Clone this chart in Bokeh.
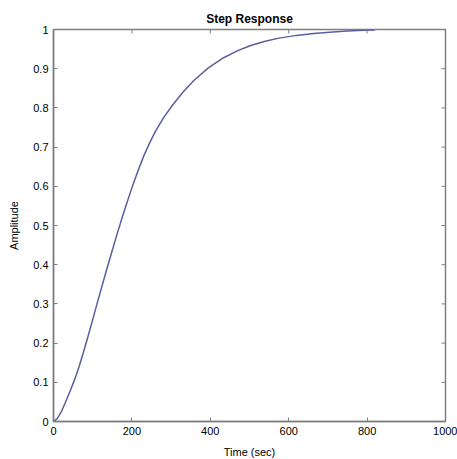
from bokeh.plotting import figure
from bokeh.models import Range1d, FixedTicker
from bokeh.embed import file_html
from bokeh.resources import INLINE

time_sec = [0, 10, 20, 30, 43, 55, 65, 75, 86, 100, 111, 125, 135, 150, 160, 175, 185, 200, 214,
            230, 245, 260, 280, 303, 330, 358, 395, 434, 470, 503, 540, 575, 620, 664, 705, 749,
            790, 820]
amplitude = [0, 0.008, 0.025, 0.048, 0.079, 0.11, 0.139, 0.172, 0.21, 0.26, 0.30, 0.35, 0.385,
             0.437, 0.471, 0.52, 0.551, 0.596, 0.635, 0.677, 0.71, 0.74, 0.774, 0.806, 0.84,
             0.87, 0.902, 0.928, 0.946, 0.959, 0.97, 0.978, 0.985, 0.99, 0.993, 0.996, 0.998,
             0.999]

x_ticks = [0, 200, 400, 600, 800, 1000]
y_ticks = [0, 0.1, 0.2, 0.3, 0.4, 0.5, 0.6, 0.7, 0.8, 0.9, 1]
x_min, x_max = 0, 1000
y_min, y_max = 0, 1

FONT = "Liberation Sans"
AXIS_COLOR = "#7f7f7f"
FRAME = 392
TICK_PX = 4

p = figure(frame_width=FRAME, frame_height=FRAME, output_backend="svg", toolbar_location=None,
           x_range=Range1d(x_min, x_max), y_range=Range1d(y_min, y_max),
           title="Step Response", x_axis_label="Time (sec)", y_axis_label="Amplitude",
           min_border_left=53, min_border_right=12, min_border_top=29, min_border_bottom=38)

p.title.align = "center"
p.title.text_font = FONT
p.title.text_font_size = "12px"
p.title.text_font_style = "bold"
p.title.text_color = "black"
p.title.offset = 0
p.title.standoff = 7

p.xgrid.visible = False
p.ygrid.visible = False
p.outline_line_color = AXIS_COLOR
p.outline_line_width = 1.5

p.line(time_sec, amplitude, line_color="#5b5e9e", line_width=1.5)

for ax, ticks in ((p.xaxis[0], x_ticks), (p.yaxis[0], y_ticks)):
    ax.ticker = FixedTicker(ticks=ticks)
    ax.axis_line_color = AXIS_COLOR
    ax.axis_line_width = 1.5
    ax.major_tick_line_color = AXIS_COLOR
    ax.major_tick_in = TICK_PX
    ax.major_tick_out = 0
    ax.minor_tick_line_color = None
    ax.major_label_text_font = FONT
    ax.major_label_text_font_size = "11px"
    ax.major_label_text_color = "black"
    ax.major_label_standoff = 5
    ax.axis_label_text_font = FONT
    ax.axis_label_text_font_size = "11px"
    ax.axis_label_text_font_style = "normal"
    ax.axis_label_text_color = "black"

p.xaxis[0].axis_label_standoff = 8
p.yaxis[0].axis_label_standoff = 10

p.xaxis[0].major_label_overrides = {t: str(t) for t in x_ticks}
p.yaxis[0].major_label_overrides = {0: "0", 1: "1"}

# inward ticks on the top and right edges of the frame (box axes)
dy = TICK_PX / FRAME * (y_max - y_min)
dx = TICK_PX / FRAME * (x_max - x_min)
p.segment(x0=x_ticks, y0=[y_max] * len(x_ticks), x1=x_ticks, y1=[y_max - dy] * len(x_ticks),
          line_color=AXIS_COLOR, line_width=1)
p.segment(x0=[x_max] * len(y_ticks), y0=y_ticks, x1=[x_max - dx] * len(y_ticks), y1=y_ticks,
          line_color=AXIS_COLOR, line_width=1)

open("out.html", "w").write(file_html(p, INLINE))
